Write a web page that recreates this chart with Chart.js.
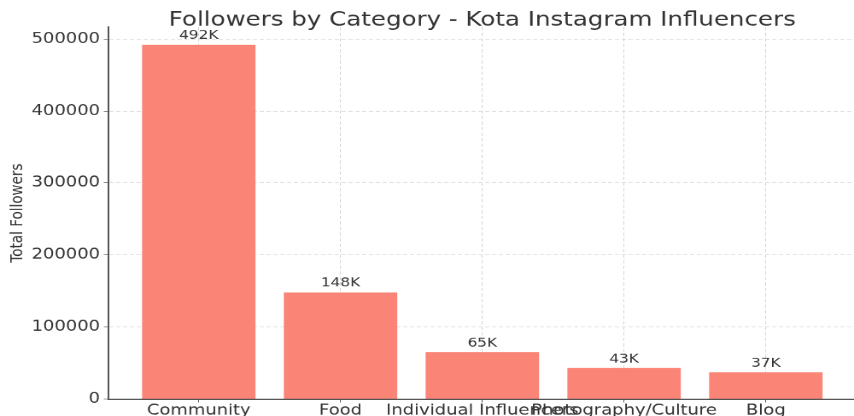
<!DOCTYPE html>
<html>
<head>
<meta charset="utf-8">
<script src="https://cdn.jsdelivr.net/npm/chart.js@4.4.1/dist/chart.umd.min.js"></script>
<style>
    html, body { margin: 0; padding: 0; background: #fff; overflow: hidden; }
    #frame { width: 854px; height: 416px; overflow: hidden; position: relative; }
    #stretch { position: absolute; left: 0; top: 0; transform-origin: 0 0; transform: scale(0.854, 0.69333); }
</style>
</head>
<body>
<div id="frame">
    <div id="stretch">
        <canvas id="followersChart" width="1010" height="600"></canvas>
    </div>
</div>
<script>
// --- Data ---
const categories = ['Community', 'Food', 'Individual Influencers', 'Photography/Culture', 'Blog'];
const followers = [492000, 148000, 65000, 43000, 37000];
const yTicks = [0, 100000, 200000, 300000, 400000, 500000];

const titleText = 'Followers by Category - Kota Instagram Influencers';
const yLabel = 'Total Followers';

const font = 'DejaVu Sans';
const textColor = '#333333';
const barColor = 'rgba(250, 128, 114, 0.97)';
const gridColor = '#d4d4d4';
const spineColor = '#555555';

// Labels "492K" above each bar
const valueLabels = {
    id: 'valueLabels',
    afterDatasetsDraw(chart) {
        const ctx = chart.ctx;
        const meta = chart.getDatasetMeta(0);
        ctx.save();
        ctx.font = '18px "' + font + '"';
        ctx.fillStyle = textColor;
        ctx.textAlign = 'center';
        ctx.textBaseline = 'bottom';
        meta.data.forEach((bar, i) => {
            ctx.fillText(Math.round(followers[i] / 1000) + 'K', bar.x, bar.y - 4);
        });
        ctx.restore();
    }
};

const ctx = document.getElementById('followersChart').getContext('2d');

new Chart(ctx, {
    type: 'bar',
    data: {
        datasets: [{
            label: yLabel,
            data: followers.map((v, i) => ({ x: i, y: v })),
            backgroundColor: barColor,
            borderWidth: 0,
            categoryPercentage: 1,
            barPercentage: 0.8
        }]
    },
    options: {
        responsive: false,
        animation: false,
        devicePixelRatio: 1,
        layout: { padding: { left: 0, right: 7, top: 0, bottom: 0 } },
        plugins: {
            legend: { display: false },
            tooltip: { enabled: false },
            title: {
                display: true,
                text: titleText,
                fullSize: false,
                color: textColor,
                font: { family: font, size: 28.7, weight: 'normal', lineHeight: 0.7 },
                padding: { top: 19, bottom: 0 }
            }
        },
        scales: {
            x: {
                type: 'linear',
                offset: false,
                min: -0.64,
                max: categories.length - 1 + 0.64,
                afterBuildTicks: (scale) => {
                    scale.ticks = categories.map((c, i) => ({ value: i }));
                },
                afterFit: (scale) => { scale.height = 24.5; },
                grid: {
                    offset: false,
                    color: gridColor,
                    lineWidth: 1,
                    drawTicks: true,
                    tickLength: 5,
                    tickColor: spineColor,
                    tickBorderDash: []
                },
                border: { display: true, color: spineColor, width: 2, dash: [5, 3] },
                ticks: {
                    autoSkip: false,
                    maxRotation: 0,
                    minRotation: 0,
                    padding: -1,
                    color: textColor,
                    font: { family: font, size: 21 },
                    callback: (value) => categories[value]
                }
            },
            y: {
                min: 0,
                max: Math.max(...followers) * 1.05,
                afterBuildTicks: (scale) => {
                    scale.ticks = yTicks.map(v => ({ value: v }));
                },
                afterFit: (scale) => { scale.width = 126.5; },
                grid: {
                    color: gridColor,
                    lineWidth: 1,
                    drawTicks: true,
                    tickLength: 5,
                    tickColor: spineColor,
                    tickBorderDash: []
                },
                border: { display: true, color: spineColor, width: 2, dash: [5, 3] },
                ticks: {
                    padding: 4.4,
                    color: textColor,
                    font: { family: font, size: 21 },
                    callback: (value) => String(value)
                },
                title: {
                    display: true,
                    text: yLabel,
                    color: textColor,
                    font: { family: font, size: 19.5 },
                    padding: { top: 9, bottom: 0 }
                }
            }
        }
    },
    plugins: [valueLabels]
});
</script>
</body>
</html>
